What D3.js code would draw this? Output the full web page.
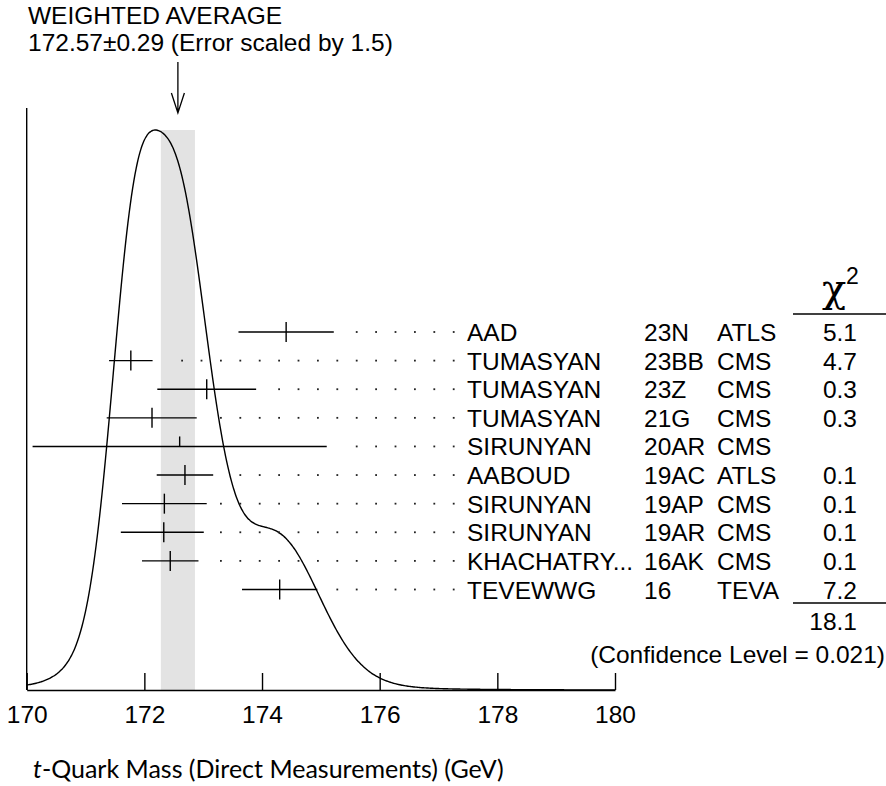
<!DOCTYPE html>
<html>
<head>
<meta charset="utf-8">
<script src="https://cdn.jsdelivr.net/npm/d3@7"></script>
<style>
  body { margin: 0; background: #fff; }
  svg { display: block; }
</style>
</head>
<body>
<svg id="chart" width="886" height="786"></svg>
<script>
// measurements, top to bottom
const authors = ["AAD", "TUMASYAN", "TUMASYAN", "TUMASYAN", "SIRUNYAN", "AABOUD", "SIRUNYAN", "SIRUNYAN", "KHACHATRY...", "TEVEWWG"];
const refs = ["23N", "23BB", "23Z", "21G", "20AR", "19AC", "19AP", "19AR", "16AK", "16"];
const collabs = ["ATLS", "CMS", "CMS", "CMS", "CMS", "ATLS", "CMS", "CMS", "CMS", "TEVA"];
const masses = [174.41, 171.77, 173.06, 172.13, 172.6, 172.69, 172.34, 172.33, 172.44, 174.30];
const errLo = [0.81, 0.37, 0.84, 0.77, 2.5, 0.48, 0.72, 0.73, 0.48, 0.64];
const errHi = [0.81, 0.37, 0.84, 0.76, 2.5, 0.48, 0.72, 0.68, 0.48, 0.64];
const chi2 = ["5.1", "4.7", "0.3", "0.3", "", "0.1", "0.1", "0.1", "0.1", "7.2"];
const usedInFit = [true, true, true, true, false, true, true, true, true, true];

const average = 172.57;
const averageErr = 0.29;
const chi2Total = "18.1";
const confLevel = "0.021";
const xTicks = [170, 172, 174, 176, 178, 180];

const W = 886, H = 786;
const font = "'Liberation Sans', Arial, Helvetica, sans-serif";
const fs = 24.5;

const svg = d3.select("#chart");
svg.append("rect").attr("width", W).attr("height", H).attr("fill", "#fff");

const x = d3.scaleLinear().domain([170, 180]).range([26.7, 615]);
const row = d3.scaleLinear().domain([0, 9]).range([332, 589.5]);

// ideogram: each measurement a gaussian with area proportional to 1/sigma
const grid = d3.range(170, 180.0001, 0.02);
const ideogram = grid.map((m) => {
  let s = 0;
  masses.forEach((c, i) => {
    const sig = (errLo[i] + errHi[i]) / 2;
    s += (1 / (sig * sig)) * Math.exp(-0.5 * ((m - c) / sig) ** 2);
  });
  return [m, s];
});
const yMax = d3.max(ideogram, (d) => d[1]);
const y = d3.scaleLinear().domain([0, yMax]).range([690, 130]);

// weighted average band
svg.append("rect")
  .attr("x", x(average - averageErr))
  .attr("width", x(average + averageErr) - x(average - averageErr))
  .attr("y", y(yMax))
  .attr("height", y(0) - y(yMax))
  .attr("fill", "#e3e3e3");

// curve
svg.append("path")
  .datum(ideogram)
  .attr("fill", "none")
  .attr("stroke", "#000")
  .attr("stroke-width", 1.4)
  .attr("d", d3.line().x((d) => x(d[0])).y((d) => y(d[1])).curve(d3.curveBasis));

// axes
const xAxis = d3.axisBottom(x)
  .tickValues(xTicks)
  .tickFormat(d3.format("d"))
  .tickSizeInner(-17)
  .tickSizeOuter(0)
  .tickPadding(16);

const gx = svg.append("g")
  .attr("transform", "translate(0,690)")
  .call(xAxis);
gx.select(".domain").attr("stroke-width", 1.4);
gx.selectAll(".tick line").attr("stroke-width", 1.4);
gx.selectAll(".tick text")
  .attr("font-family", font)
  .attr("font-size", fs)
  .attr("fill", "#000");

svg.append("line")
  .attr("x1", x(170)).attr("x2", x(170))
  .attr("y1", 108).attr("y2", 690)
  .attr("stroke", "#000").attr("stroke-width", 1.4);

// leader dots
const dotEnd = 453.7, dotStep = 19.4;
const dots = [];
masses.forEach((m, i) => {
  const right = x(m + errHi[i]);
  for (let k = 0; dotEnd - k * dotStep >= right + 12; k++) {
    dots.push({ cx: dotEnd - k * dotStep, cy: row(i) });
  }
});
svg.append("g").selectAll("rect")
  .data(dots)
  .join("rect")
  .attr("x", (d) => d.cx - 0.9)
  .attr("y", (d) => d.cy - 0.9)
  .attr("width", 1.8)
  .attr("height", 1.8)
  .attr("fill", "#222");

// error bars
const bars = svg.append("g").attr("stroke", "#000").attr("stroke-width", 1.4);
masses.forEach((m, i) => {
  bars.append("line")
    .attr("x1", x(m - errLo[i])).attr("x2", x(m + errHi[i]))
    .attr("y1", row(i)).attr("y2", row(i));
  bars.append("line")
    .attr("x1", x(m)).attr("x2", x(m))
    .attr("y1", row(i) - 10).attr("y2", usedInFit[i] ? row(i) + 10 : row(i));
});

// table text
const table = svg.append("g")
  .attr("font-family", font)
  .attr("font-size", fs)
  .attr("fill", "#000");

const cols = [
  { vals: authors, x: 467, anchor: "start" },
  { vals: refs, x: 644, anchor: "start" },
  { vals: collabs, x: 717, anchor: "start" },
  { vals: chi2, x: 857, anchor: "end" }
];
cols.forEach((c) => {
  table.append("g")
    .attr("text-anchor", c.anchor)
    .selectAll("text")
    .data(c.vals)
    .join("text")
    .attr("x", c.x)
    .attr("y", (d, i) => row(i) + 9)
    .text((d) => d);
});

// chi2 header and sum
svg.append("text")
  .attr("x", 834).attr("y", 302)
  .attr("text-anchor", "middle")
  .attr("font-family", "'DejaVu Serif', serif")
  .attr("font-size", 40)
  .text("χ");
svg.append("text")
  .attr("x", 846).attr("y", 284)
  .attr("font-family", font)
  .attr("font-size", 23)
  .text("2");
svg.append("line")
  .attr("x1", 793).attr("x2", 886)
  .attr("y1", 314).attr("y2", 314)
  .attr("stroke", "#000").attr("stroke-width", 1.4);
svg.append("line")
  .attr("x1", 793).attr("x2", 886)
  .attr("y1", 603).attr("y2", 603)
  .attr("stroke", "#000").attr("stroke-width", 1.4);
table.append("text")
  .attr("x", 857).attr("y", 630)
  .attr("text-anchor", "end")
  .text(chi2Total);
table.append("text")
  .attr("x", 885).attr("y", 663)
  .attr("text-anchor", "end")
  .text(`(Confidence Level = ${confLevel})`);

// weighted average label + arrow
const title = svg.append("g")
  .attr("font-family", font)
  .attr("font-size", fs)
  .attr("fill", "#000");
title.append("text").attr("x", 28).attr("y", 24).text("WEIGHTED AVERAGE");
title.append("text").attr("x", 28).attr("y", 51)
  .text(`${average.toFixed(2)}±${averageErr.toFixed(2)} (Error scaled by 1.5)`);

const ax = x(average);
svg.append("path")
  .attr("d", `M${ax},62 V113 M${ax - 6.5},93 L${ax},113 L${ax + 6.5},93`)
  .attr("fill", "none")
  .attr("stroke", "#000")
  .attr("stroke-width", 1.3);

// x label
const xl = svg.append("text")
  .attr("x", 33).attr("y", 778)
  .attr("font-family", "Lato, 'Open Sans', sans-serif")
  .attr("font-size", 25)
  .attr("fill", "#000");
xl.append("tspan").attr("font-style", "italic").text("t");
xl.append("tspan").text("-Quark Mass (Direct Measurements) (GeV)");
</script>
</body>
</html>
